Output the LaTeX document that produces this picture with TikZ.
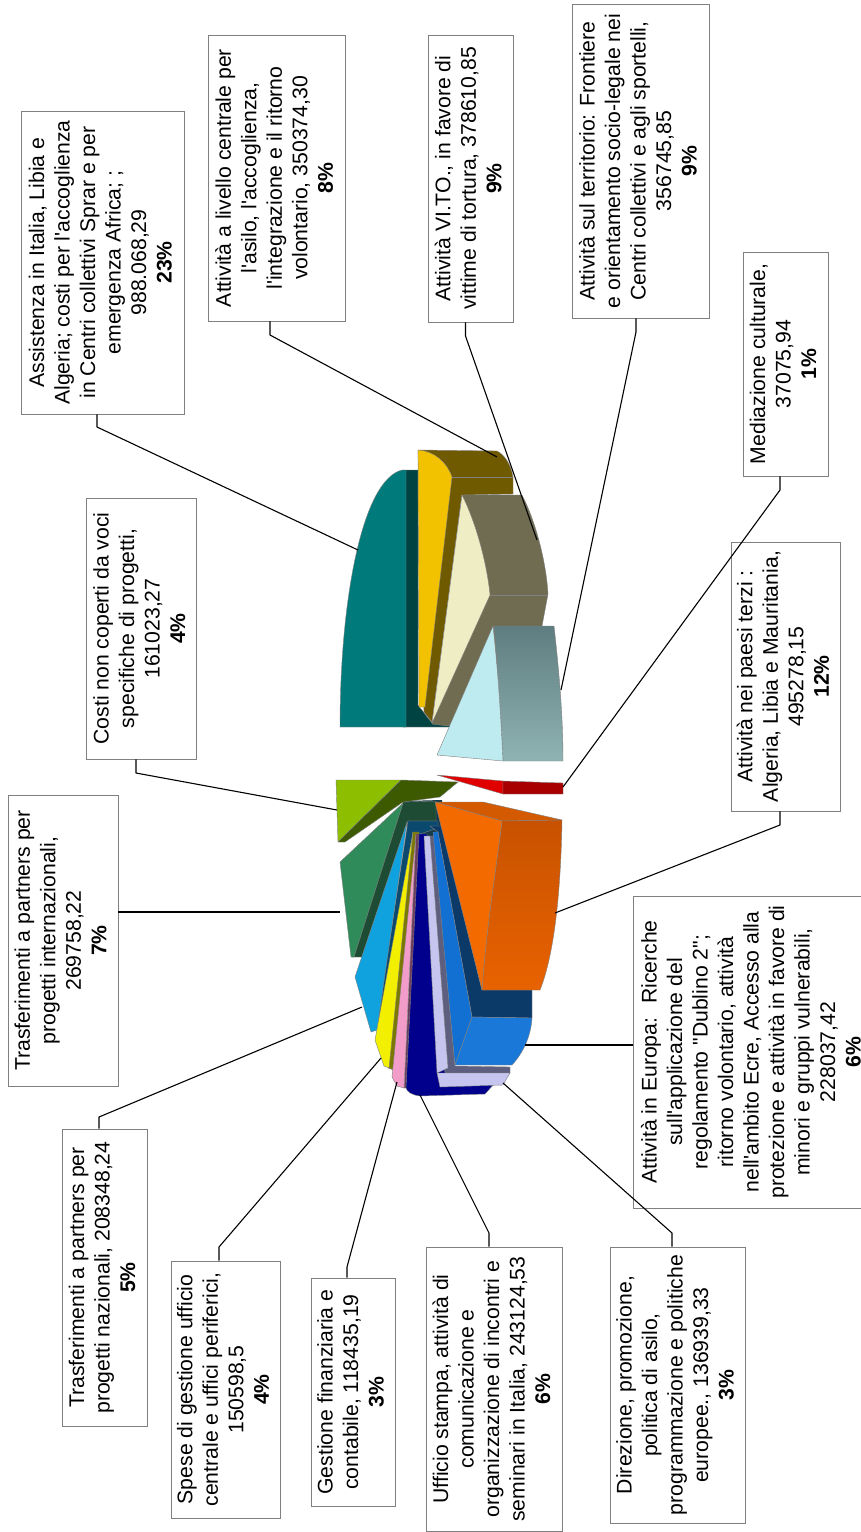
\documentclass[tikz,border=0pt]{standalone}
\usepackage{fontspec}
\setmainfont{Liberation Sans}[Ligatures=TeXOff]
\usepackage{graphicx}
\definecolor{boxgray}{HTML}{808080}
\definecolor{tealf}{HTML}{007A7A}
\definecolor{tealdk}{HTML}{004343}
\definecolor{brownc}{HTML}{6F5A00}
\definecolor{yellowc}{HTML}{F2C200}
\definecolor{grayc}{HTML}{6F6C52}
\definecolor{creamc}{HTML}{EFEDC3}
\definecolor{cyanf}{HTML}{BEEBEF}
\definecolor{cysa}{HTML}{5F7D80}
\definecolor{cysb}{HTML}{8FB3B3}
\definecolor{redf}{HTML}{E00000}
\definecolor{redd}{HTML}{A80000}
\definecolor{lgf}{HTML}{8DBF00}
\definecolor{lgd}{HTML}{3D5A00}
\definecolor{sgf}{HTML}{2F8B5A}
\definecolor{sgd}{HTML}{1E4B33}
\definecolor{lbf}{HTML}{10A2DE}
\definecolor{lbd}{HTML}{0B4A6E}
\definecolor{yf}{HTML}{F2F000}
\definecolor{ybd}{HTML}{7A7800}
\definecolor{pkf}{HTML}{F29DC9}
\definecolor{pkd}{HTML}{6E3E5E}
\definecolor{navyc}{HTML}{00008C}
\definecolor{lavf}{HTML}{C5C5EF}
\definecolor{slatec}{HTML}{5E5E7E}
\definecolor{bluedk}{HTML}{0C3A68}
\definecolor{bluef}{HTML}{1270D2}
\definecolor{bluefb}{HTML}{1A78D8}
\definecolor{orgtop}{HTML}{D35A00}
\definecolor{orgsa}{HTML}{C85200}
\definecolor{orgsb}{HTML}{E86200}
\definecolor{orgf}{HTML}{F26A00}
\definecolor{apexc}{HTML}{163A4A}
\newcommand{\boxtxt}[1]{\rotatebox{90}{\begin{tabular}{@{}c@{}}#1\end{tabular}}}
\begin{document}
\begin{tikzpicture}[x=1pt,y=-1pt,
  lbl/.style={draw=boxgray, line width=0.9pt, fill=white, inner sep=0pt,
    font=\fontsize{21.2pt}{25.5pt}\selectfont},
  leader/.style={draw=black, line width=1.1pt, line join=round},
  sl/.style={draw=black!50, line width=0.4pt, line join=round},
  edge/.style={draw=black!50, line width=0.4pt}]
\useasboundingbox (0,0) rectangle (860,1532);
\fill[white] (0,0) rectangle (860,1532);

% ---------- upper cluster ----------
\filldraw[fill=tealdk, sl] (403,470) -- (418,470) -- (418,705) -- (432,723) -- (450,723) -- (450,727) -- (403,727) -- cycle;
\filldraw[fill=tealf, sl] (340,727) .. controls (340,600) and (362,480) .. (402,470) -- (406,470) -- (406,727) -- cycle;
\filldraw[fill=brownc, sl] (418,450) -- (497,451) .. controls (505,455) and (511,465) .. (513,477) -- (513,494) -- (462,495) -- (432,722) -- (424,712) -- cycle;
\draw[edge] (452,477) -- (513,477);
\filldraw[fill=yellowc, sl] (418,450) .. controls (434,451) and (447,462) .. (452,477) -- (425,707) -- (419,707) -- cycle;
\filldraw[fill=grayc, sl] (462,495) -- (522,495) .. controls (535,520) and (546,560) .. (548,594) -- (542,626) -- (448,726) -- (432,724) -- cycle;
\draw[edge] (490,595) -- (548,595);
\filldraw[fill=creamc, sl] (462,495) .. controls (477,525) and (487,565) .. (490,595) -- (432,723) -- cycle;
\shadedraw[top color=cysa, bottom color=cysb, sl] (494,626) -- (554,626) .. controls (560,680) and (563,720) .. (563,761) -- (503,761) .. controls (501,720) and (498,670) .. (494,626) -- cycle;
\filldraw[fill=cyanf, sl] (493,626) .. controls (498,670) and (501,720) .. (503,761) -- (437,755) -- cycle;

% ---------- red ----------
\filldraw[fill=redf, sl] (437,775) -- (503,781) -- (503,794) -- cycle;
\filldraw[fill=redd, sl] (503,781) -- (563,783) -- (563,794) -- (503,794) -- cycle;

% ---------- lower cluster ----------
\fill[apexc] (403,801) -- (442,800) -- (446,842) -- (410,846) -- cycle;
\filldraw[fill=lgf, sl] (336,780) -- (401,780) -- (338,842) -- cycle;
\filldraw[fill=lgd, sl] (401,780) -- (458,782) -- (440,797) -- (403,802) -- (345,842) -- (338,842) -- cycle;
\filldraw[fill=sgd, sl] (403,802) -- (436,801) -- (436,821) -- (408,821) -- (362,957) -- (352,957) -- cycle;
\filldraw[fill=sgf, sl] (340,862) -- (403,803) -- (354,957) -- (351,957) -- cycle;
\filldraw[fill=lbd, sl] (408,821) -- (438,821) -- (438,828) -- (414,836) -- (383,1022) -- (376,1030) -- cycle;
\filldraw[fill=lbf, sl] (355,977) -- (407,822) -- (377,1030) -- (371,1032) -- cycle;
\filldraw[fill=ybd, sl] (413,832) -- (419,832) -- (394,1070) -- (388,1068) -- cycle;
\filldraw[fill=yf, sl] (375,1040) -- (413,832) -- (389,1068) -- (384,1066) -- cycle;
\filldraw[fill=pkd, sl] (416,834) -- (421,834) -- (408,1088) -- (404,1088) -- cycle;
\filldraw[fill=pkf, sl] (392,1077) -- (416,834) -- (404,1088) -- (397,1086) -- cycle;
\filldraw[fill=navyc, sl] (406,1088) -- (419,834) -- (427,834) -- (445,1072) -- (492,1075) -- (494,1084) -- (485,1094) -- (420,1096) .. controls (412,1095) and (407,1092) .. (406,1088) -- cycle;
\filldraw[fill=slatec, sl] (429,836) -- (434,836) -- (455,1066) -- (510,1067) -- (510,1073) -- (445,1073) -- cycle;
\filldraw[fill=lavf, sl] (424,836) -- (430,836) -- (448,1068) -- (437,1073) -- cycle;
\filldraw[fill=lavf, sl] (437,1073) -- (510,1073) -- (503,1085) -- (440,1087) -- cycle;
\filldraw[fill=bluedk, sl] (430,826) -- (442,826) -- (482,990) -- (532,990) -- (532,1018) -- (472,1017) -- (438,832) -- cycle;
\filldraw[fill=bluef, sl] (433,832) -- (438,832) -- (472,1017) -- (455,1065) -- cycle;
\filldraw[fill=bluefb, sl] (472,1017) -- (532,1018) .. controls (531,1035) and (524,1052) .. (512,1065) -- (455,1065) -- cycle;
\filldraw[fill=orgtop, sl] (435,802) -- (483,802) -- (562,820) -- (502,821) -- cycle;
\shadedraw[top color=orgsa, bottom color=orgsb, sl] (502,821) -- (562,820) .. controls (561,880) and (556,950) .. (540,990) -- (482,990) .. controls (486,930) and (496,870) .. (502,821) -- cycle;
\filldraw[fill=orgf, sl] (435,802) -- (502,821) .. controls (496,870) and (486,930) .. (482,990) -- cycle;

% ---------- label boxes ----------
\node[lbl, minimum width=162.5pt, minimum height=303pt] (b1) at (102.75,262.5) {\boxtxt{Assistenza in Italia, Libia e\\Algeria; costi per l'accoglienza\\in Centri collettivi Sprar e per\\emergenza Africa; ;\\988.068,29\\\textbf{23\%}}};
\node[lbl, minimum width=136.5pt, minimum height=286pt] (b2) at (276.75,178) {\boxtxt{Attività a livello centrale per\\l'asilo, l'accoglienza,\\l'integrazione e il ritorno\\volontario, 350374,30\\\textbf{8\%}}};
\node[lbl, minimum width=84.5pt, minimum height=287pt] (b3) at (470.75,178.5) {\boxtxt{Attività VI.TO., in favore di\\vittime di tortura, 378610,85\\\textbf{9\%}}};
\node[lbl, minimum width=137pt, minimum height=314pt] (b4) at (640.5,161) {\boxtxt{Attività sul territorio: Frontiere\\e orientamento socio-legale nei\\Centri collettivi e agli sportelli,\\356745,85\\\textbf{9\%}}};
\node[lbl, minimum width=85pt, minimum height=224pt] (b5) at (785.5,364) {\boxtxt{Mediazione culturale,\\37075,94\\\textbf{1\%}}};
\node[lbl, minimum width=109pt, minimum height=269pt] (b6) at (785.5,676.5) {\boxtxt{Attività nei paesi terzi :\\Algeria, Libia e Mauritania,\\495278,15\\\textbf{12\%}}};
\node[lbl, minimum width=241pt, minimum height=312pt] (b7) at (753.5,1052) {\boxtxt{Attività in Europa:~ Ricerche\\sull'applicazione del\\regolamento "Dublino 2";\\ritorno volontario, attività\\nell'ambito Ecre, Accesso alla\\protezione e attività in favore di\\minori e gruppi vulnerabili,\\228037,42\\\textbf{6\%}}};
\node[lbl, minimum width=135pt, minimum height=276pt] (b8) at (677.5,1385) {\boxtxt{Direzione, promozione,\\politica di asilo,\\programmazione e politiche\\europee., 136939,33\\\textbf{3\%}}};
\node[lbl, minimum width=136pt, minimum height=284pt] (b9) at (494,1389) {\boxtxt{Ufficio stampa, attività di\\comunicazione e\\organizzazione di incontri e\\seminari in Italia, 243124,53\\\textbf{6\%}}};
\node[lbl, minimum width=84pt, minimum height=228pt] (b10) at (353,1392) {\boxtxt{Gestione finanziaria e\\contabile, 118435,19\\\textbf{3\%}}};
\node[lbl, minimum width=109pt, minimum height=257pt] (b11) at (225.5,1389.5) {\boxtxt{Spese di gestione ufficio\\centrale e uffici periferici,\\150598,5\\\textbf{4\%}}};
\node[lbl, minimum width=85pt, minimum height=297pt] (b12) at (104.5,1277.5) {\boxtxt{Trasferimenti a partners per\\progetti nazionali, 208348,24\\\textbf{5\%}}};
\node[lbl, minimum width=110pt, minimum height=291pt] (b13) at (63,940.5) {\boxtxt{Trasferimenti a partners per\\progetti internazionali,\\269758,22\\\textbf{7\%}}};
\node[lbl, minimum width=110pt, minimum height=261pt] (b14) at (141.7,628.5) {\boxtxt{Costi non coperti da voci\\specifiche di progetti,\\161023,27\\\textbf{4\%}}};

% ---------- leader coordinates ----------
\coordinate (k1) at (97,427);    \coordinate (e1) at (358,550);
\coordinate (k2) at (270,335);   \coordinate (e2) at (497,457);
\coordinate (k3) at (465.5,336); \coordinate (e3) at (537,540);
\coordinate (k4) at (636,332);   \coordinate (e4) at (561,690);
\coordinate (k5) at (780,490);   \coordinate (e5) at (563,787);
\coordinate (k6) at (780,825);   \coordinate (e6) at (555,913);
\coordinate (e7) at (525,1045);
\coordinate (k8) at (672,1233);  \coordinate (e8) at (503,1083);
\coordinate (k9) at (489,1233);  \coordinate (e9) at (420,1095);
\coordinate (k10) at (347,1267); \coordinate (e10) at (397,1082);
\coordinate (k11) at (219,1247); \coordinate (e11) at (381,1058);
\coordinate (k12) at (99,1117);  \coordinate (e12) at (362,1007);
\coordinate (e13) at (340,912);
\coordinate (k14) at (136,773);  \coordinate (e14) at (337,810);

% ---------- leaders ----------
\draw[leader] (b1.south -| k1) -- (k1) -- (e1);
\draw[leader] (b2.south -| k2) -- (k2) -- (e2);
\draw[leader] (b3.south -| k3) -- (k3) -- (e3);
\draw[leader] (b4.south -| k4) -- (k4) -- (e4);
\draw[leader] (b5.south -| k5) -- (k5) -- (e5);
\draw[leader] (b6.south -| k6) -- (k6) -- (e6);
\draw[leader] (b7.west |- e7) -- (e7);
\draw[leader] (b8.north -| k8) -- (k8) -- (e8);
\draw[leader] (b9.north -| k9) -- (k9) -- (e9);
\draw[leader] (b10.north -| k10) -- (k10) -- (e10);
\draw[leader] (b11.north -| k11) -- (k11) -- (e11);
\draw[leader] (b12.north -| k12) -- (k12) -- (e12);
\draw[leader] (b13.east |- e13) -- (e13);
\draw[leader] (b14.south -| k14) -- (k14) -- (e14);
\end{tikzpicture}
\end{document}
